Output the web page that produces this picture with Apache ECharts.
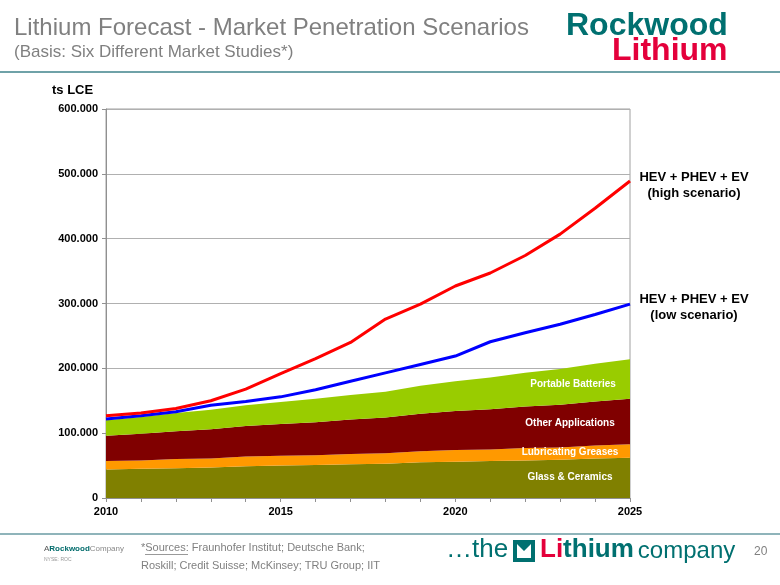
<!DOCTYPE html>
<html>
<head>
<meta charset="utf-8">
<script src="https://cdn.jsdelivr.net/npm/echarts@6/dist/echarts.min.js"></script>
<style>html,body{margin:0;padding:0;background:#fff}#c{width:780px;height:585px}</style>
</head>
<body>
<div id="c"></div>
<script>
var years = ['2010','2011','2012','2013','2014','2015','2016','2017','2018','2019','2020','2021','2022','2023','2024','2025'];
var glassCeramics = [44000,45000,46000,47000,49000,50000,51000,52000,53000,55000,56000,57000,58000,59000,61000,62000];
var lubricatingGreases = [13000,13000,14000,14000,15000,15000,15000,16000,16000,17000,18000,18000,19000,19000,20000,21000];
var otherApplications = [39000,41000,43000,45000,47000,49000,51000,53000,55000,58000,60000,62000,64000,66000,68000,70000];
var portableBatteries = [24000,26000,28000,30000,32000,34000,36000,38000,40000,43000,46000,49000,52000,55000,58000,61000];
var highScenario = [127000,131000,138000,150000,168000,192000,215000,240000,276000,299000,327000,347000,374000,407000,447000,489000];
var lowScenario = [122000,127000,133000,143000,149000,156000,167000,180000,193000,206000,219000,241000,255000,268000,283000,299000];

var chart = echarts.init(document.getElementById('c'));
function fmt(v){ return String(v).replace(/\B(?=(\d{3})+(?!\d))/g, '.'); }
function area(name, data, color){
  return {name:name,type:'line',stack:'s',data:data,symbol:'none',silent:true,
    lineStyle:{width:0},areaStyle:{color:color,opacity:1},itemStyle:{color:color}};
}
var F = 'Arial, "Liberation Sans", sans-serif';
chart.setOption({
  animation:false,
  grid:{left:106,right:150,top:109,bottom:87,show:true,borderColor:'#a0a0a0',borderWidth:1,backgroundColor:'transparent'},
  xAxis:{type:'category',data:years,boundaryGap:false,
    axisLine:{lineStyle:{color:'#909090',width:1}},
    axisTick:{show:true,interval:0,length:4,lineStyle:{color:'#909090'}},
    axisLabel:{interval:4,color:'#000',fontFamily:F,fontWeight:'bold',fontSize:11,margin:8},
    splitLine:{show:false}},
  yAxis:{type:'value',min:0,max:600000,interval:100000,
    axisLine:{show:true,lineStyle:{color:'#909090'}},
    axisTick:{show:true,length:4,lineStyle:{color:'#909090'}},
    axisLabel:{formatter:fmt,color:'#000',fontFamily:F,fontWeight:'bold',fontSize:11,margin:8},
    splitLine:{lineStyle:{color:'#b0b0b0',width:1}}},
  series:[
    area('Glass & Ceramics',glassCeramics,'#808000'),
    area('Lubricating Greases',lubricatingGreases,'#ff9900'),
    area('Other Applications',otherApplications,'#800000'),
    area('Portable Batteries',portableBatteries,'#99cc00'),
    {name:'low',type:'line',data:lowScenario,symbol:'none',lineStyle:{color:'#0000ff',width:3},z:5},
    {name:'high',type:'line',data:highScenario,symbol:'none',lineStyle:{color:'#ff0000',width:3},z:6}
  ],
  graphic:[
    {type:'text',left:14,top:16,style:{text:'Lithium Forecast - Market Penetration Scenarios',font:'24px '+F,fill:'#808080'}},
    {type:'text',left:14,top:44,style:{text:'(Basis: Six Different Market Studies*)',font:'17px '+F,fill:'#808080'}},
    {type:'text',left:566,top:10,style:{text:'Rockwood',font:'bold 32px "Liberation Sans Narrow", "Arial Narrow", '+F,fill:'#007070'}},
    {type:'text',left:612,top:35,style:{text:'Lithium',font:'bold 32px "Liberation Sans Narrow", "Arial Narrow", '+F,fill:'#e4003b'}},
    {type:'rect',shape:{x:0,y:71,width:780,height:2},style:{fill:'#6fa2a8'}},
    {type:'rect',shape:{x:0,y:533,width:780,height:2},style:{fill:'#8fb4ba'}},
    {type:'text',left:52,top:84,style:{text:'ts LCE',font:'bold 13px '+F,fill:'#000'}},
    {type:'text',x:694,y:177,style:{text:'HEV + PHEV + EV',font:'bold 13px '+F,fill:'#000',align:'center',verticalAlign:'middle'}},
    {type:'text',x:694,y:193,style:{text:'(high scenario)',font:'bold 13px '+F,fill:'#000',align:'center',verticalAlign:'middle'}},
    {type:'text',x:694,y:299,style:{text:'HEV + PHEV + EV',font:'bold 13px '+F,fill:'#000',align:'center',verticalAlign:'middle'}},
    {type:'text',x:694,y:315,style:{text:'(low scenario)',font:'bold 13px '+F,fill:'#000',align:'center',verticalAlign:'middle'}},
    {type:'text',x:573,y:384,z:10,style:{text:'Portable Batteries',font:'bold 10px '+F,fill:'#fff',align:'center',verticalAlign:'middle'}},
    {type:'text',x:570,y:423,z:10,style:{text:'Other Applications',font:'bold 10px '+F,fill:'#fff',align:'center',verticalAlign:'middle'}},
    {type:'text',x:570,y:452,z:10,style:{text:'Lubricating Greases',font:'bold 10px '+F,fill:'#fff',align:'center',verticalAlign:'middle'}},
    {type:'text',x:570,y:477,z:10,style:{text:'Glass & Ceramics',font:'bold 10px '+F,fill:'#fff',align:'center',verticalAlign:'middle'}},
    {type:'text',left:44,top:545,style:{rich:{a:{font:'8px '+F,fill:'#555'},b:{font:'bold 8px '+F,fill:'#006b6b'},c:{font:'8px '+F,fill:'#888'}},text:'{a|A}{b|Rockwood}{c|Company}'}},
    {type:'text',left:44,top:557,style:{text:'NYSE: ROC',font:'5px '+F,fill:'#999'}},
    {type:'text',left:141,top:542,style:{text:'*Sources: Fraunhofer Institut; Deutsche Bank;',font:'11px '+F,fill:'#808080'}},
    {type:'rect',shape:{x:145,y:554,width:43,height:1},style:{fill:'#999'}},
    {type:'text',left:141,top:560,style:{text:'Roskill; Credit Suisse; McKinsey; TRU Group; IIT',font:'11px '+F,fill:'#808080'}},
    {type:'text',left:446,top:537,style:{text:'…the',font:'26px '+F,fill:'#007070'}},
    {type:'rect',shape:{x:513,y:540,width:22,height:22},style:{fill:'#007070'}},
    {type:'polygon',shape:{points:[[517,544],[524,551],[531,544],[531,558],[517,558]]},style:{fill:'#fff'}},
    {type:'text',left:540,top:537,style:{rich:{r:{font:'bold 26px '+F,fill:'#e4003b'},t:{font:'bold 26px '+F,fill:'#007070'},n:{font:'24px '+F,fill:'#007070',padding:[2,0,0,4]}},text:'{r|Li}{t|thium}{n|company}'}},
    {type:'text',left:754,top:546,style:{text:'20',font:'12px '+F,fill:'#808080'}}
  ]
});
</script>
</body>
</html>
